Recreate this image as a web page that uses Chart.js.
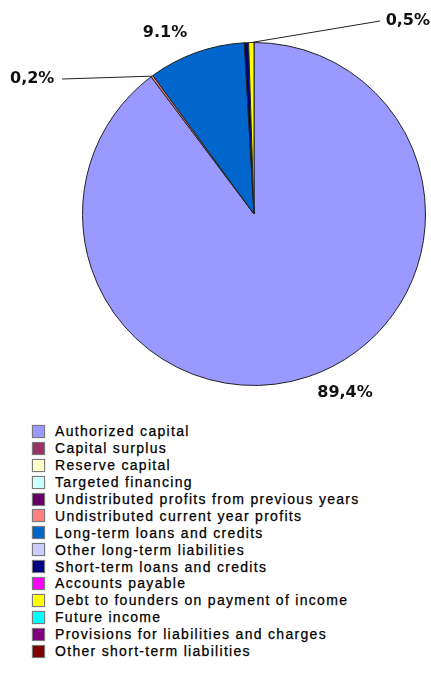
<!DOCTYPE html>
<html>
<head>
<meta charset="utf-8">
<script src="https://cdn.jsdelivr.net/npm/chart.js@4/dist/chart.umd.min.js"></script>
<style>
  body { margin: 0; background: #fff; }
  #wrap { position: relative; width: 431px; height: 691px; overflow: hidden; }
  #pie-box { position: absolute; left: 0; top: 0; width: 431px; height: 420px; }
  #legend { position: absolute; left: 32px; top: 423px; margin: 0; padding: 0; list-style: none; }
  #legend li { height: 16.9px; display: flex; align-items: center; font-family: "Liberation Sans", Arial, sans-serif; font-size: 14px; letter-spacing: 1.3px; color: #000; white-space: nowrap; -webkit-text-stroke: 0.25px #000; }
  #legend .box { width: 11px; height: 11px; border: 1px solid #7a7a7a; box-shadow: 0 0 1px #999; margin-right: 10px; flex: none; }
</style>
</head>
<body>
<div id="wrap">
  <div id="pie-box"><canvas id="pieChart"></canvas></div>
  <ul id="legend"></ul>
</div>
<script>
const categories = [
    'Authorized capital',
    'Capital surplus',
    'Reserve capital',
    'Targeted financing',
    'Undistributed profits from previous years',
    'Undistributed current year profits',
    'Long-term loans and credits',
    'Other long-term liabilities',
    'Short-term loans and credits',
    'Accounts payable',
    'Debt to founders on payment of income',
    'Future income',
    'Provisions for liabilities and charges',
    'Other short-term liabilities'
];
const shares = [89.4, 0, 0, 0, 0, 0.2, 9.1, 0, 0.4, 0, 0.5, 0, 0, 0];
const shareLabels = ['89,4%', null, null, null, null, '0,2%', '9.1%', null, null, null, '0,5%', null, null, null];
const colors = ['#9999FF', '#993366', '#FFFFCC', '#CCFFFF', '#660066', '#FF8080', '#0066CC',
                '#CCCCFF', '#000080', '#FF00FF', '#FFFF00', '#00FFFF', '#800080', '#800000'];

// where each printed percentage sits, and whether a leader line runs to the slice edge
const labelPlacement = {
    0:  { x: 345, y: 393, align: 'center', leader: false },
    5:  { x: 10,  y: 79,  align: 'left',   leader: true, lineFrom: 62 },
    6:  { x: 165, y: 33,  align: 'center', leader: false },
    10: { x: 430, y: 21,  align: 'right',  leader: true, lineFrom: 380 }
};

const pieLabels = {
    id: 'pieLabels',
    afterDatasetsDraw(chart) {
        const ctx = chart.ctx;
        const meta = chart.getDatasetMeta(0);
        ctx.save();
        ctx.font = 'bold 16px "DejaVu Sans", sans-serif';
        ctx.fillStyle = '#111';
        ctx.textBaseline = 'middle';
        Object.keys(labelPlacement).forEach(k => {
            const i = Number(k);
            const p = labelPlacement[i];
            const arc = meta.data[i];
            if (p.leader) {
                const mid = (arc.startAngle + arc.endAngle) / 2;
                const ex = arc.x + Math.cos(mid) * arc.outerRadius;
                const ey = arc.y + Math.sin(mid) * arc.outerRadius;
                ctx.strokeStyle = '#222';
                ctx.lineWidth = 1;
                ctx.beginPath();
                ctx.moveTo(p.lineFrom, p.y);
                ctx.lineTo(ex, ey);
                ctx.stroke();
            }
            ctx.textAlign = p.align;
            ctx.fillText(shareLabels[i], p.x, p.y);
        });
        ctx.restore();
    }
};

const chart = new Chart(document.getElementById('pieChart'), {
    type: 'pie',
    data: {
        labels: categories,
        datasets: [{
            data: shares,
            backgroundColor: colors,
            borderColor: '#222',
            borderWidth: 1
        }]
    },
    options: {
        responsive: true,
        maintainAspectRatio: false,
        animation: false,
        layout: { padding: { left: 82, right: 5, top: 42, bottom: 34 } },
        plugins: {
            legend: { display: false },
            tooltip: { enabled: false }
        }
    },
    plugins: [pieLabels]
});

// html legend, one entry per row, built from the chart's own legend items
const legendEl = document.getElementById('legend');
Chart.overrides.pie.plugins.legend.labels.generateLabels(chart).forEach(item => {
    const li = document.createElement('li');
    const box = document.createElement('span');
    box.className = 'box';
    box.style.background = item.fillStyle;
    li.appendChild(box);
    li.appendChild(document.createTextNode(item.text));
    legendEl.appendChild(li);
});
</script>
</body>
</html>
